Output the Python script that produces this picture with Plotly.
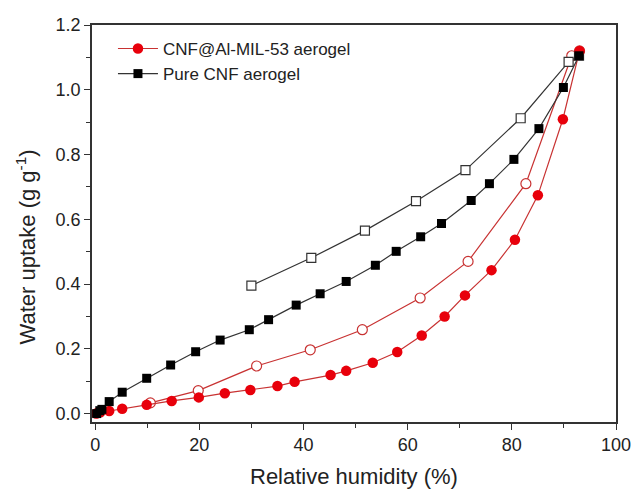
import plotly.graph_objects as go

# Data
mof_ads_x = [0.2, 0.5, 1.0, 2.7, 5.2, 9.9, 14.7, 19.9, 24.9, 29.8, 35.0, 38.3, 45.2, 48.2,
             53.3, 58.0, 62.7, 67.1, 71.0, 76.1, 80.6, 85.0, 89.8, 93.0]
mof_ads_y = [0.0, 0.002, 0.004, 0.008, 0.015, 0.027, 0.039, 0.050, 0.063, 0.073, 0.085, 0.098,
             0.119, 0.132, 0.157, 0.190, 0.241, 0.300, 0.365, 0.443, 0.537, 0.674, 0.909, 1.12]
mof_des_x = [93.0, 91.5, 82.7, 71.6, 62.4, 51.3, 41.3, 31.0, 19.8, 10.6]
mof_des_y = [1.12, 1.105, 0.710, 0.470, 0.357, 0.259, 0.197, 0.147, 0.071, 0.033]

cnf_ads_x = [0.3, 0.9, 1.3, 2.7, 5.2, 9.9, 14.5, 19.3, 24.0, 29.6, 33.3, 38.6, 43.2, 48.2,
             53.8, 57.8, 62.5, 66.5, 72.2, 75.7, 80.4, 85.2, 89.9, 92.9]
cnf_ads_y = [0.0, 0.009, 0.013, 0.037, 0.066, 0.109, 0.150, 0.191, 0.227, 0.259, 0.290, 0.335,
             0.370, 0.408, 0.458, 0.501, 0.546, 0.587, 0.658, 0.710, 0.785, 0.880, 1.007, 1.105]
cnf_des_x = [92.9, 90.9, 81.7, 71.1, 61.6, 51.8, 41.5, 30.0]
cnf_des_y = [1.105, 1.086, 0.912, 0.752, 0.656, 0.565, 0.481, 0.395]

x_ticks = [0, 20, 40, 60, 80, 100]
y_ticks = [0, 0.2, 0.4, 0.6, 0.8, 1.0, 1.2]

RED = "#e8000b"
RED_LINE = "#c83232"
BLACK = "#000000"
BLACK_LINE = "#333333"
FONT = "Liberation Sans, Arial"

fig = go.Figure()

fig.add_trace(go.Scatter(
    x=mof_des_x, y=mof_des_y, mode="lines+markers", showlegend=False,
    line=dict(color=RED_LINE, width=1.2),
    marker=dict(symbol="circle", size=10, color="white", line=dict(color=RED_LINE, width=1.2)),
))
fig.add_trace(go.Scatter(
    x=cnf_des_x, y=cnf_des_y, mode="lines+markers", showlegend=False,
    line=dict(color=BLACK_LINE, width=1.2),
    marker=dict(symbol="square", size=9, color="white", line=dict(color=BLACK_LINE, width=1.2)),
))
fig.add_trace(go.Scatter(
    x=mof_ads_x, y=mof_ads_y, mode="lines+markers", name="CNF@Al-MIL-53 aerogel",
    line=dict(color=RED_LINE, width=1.2),
    marker=dict(symbol="circle", size=10.5, color=RED, line=dict(width=0)),
))
fig.add_trace(go.Scatter(
    x=cnf_ads_x, y=cnf_ads_y, mode="lines+markers", name="Pure CNF aerogel",
    line=dict(color=BLACK_LINE, width=1.2),
    marker=dict(symbol="square", size=9, color=BLACK, line=dict(width=0)),
))

axis_common = dict(
    showgrid=False, zeroline=False, showline=True, linecolor="#333333", linewidth=1.5,
    mirror=True, ticks="outside", ticklen=6, tickwidth=1.2, tickcolor="#333333",
    tickfont=dict(family=FONT, size=18, color="#222222"),
)

fig.update_layout(
    width=643, height=493,
    margin=dict(l=92, r=18, t=25, b=71),
    paper_bgcolor="white", plot_bgcolor="white",
    font=dict(family=FONT, color="#222222"),
    xaxis=dict(
        range=[-0.6, 100], tickvals=x_ticks,
        minor=dict(tickvals=[10, 30, 50, 70, 90], ticks="outside", ticklen=4, tickcolor="#333333"),
        **axis_common,
    ),
    yaxis=dict(
        range=[-0.026, 1.2], tickvals=y_ticks, tickformat=".1f",
        minor=dict(tickvals=[0.1, 0.3, 0.5, 0.7, 0.9, 1.1], ticks="outside", ticklen=4, tickcolor="#333333"),
        **axis_common,
    ),
    legend=dict(
        x=0.04, y=0.985, xanchor="left", yanchor="top",
        bgcolor="rgba(0,0,0,0)", font=dict(size=17, family=FONT, color="#222222"),
        traceorder="normal", itemwidth=40, tracegroupgap=0,
    ),
    annotations=[
        dict(text="Relative humidity (%)", xref="paper", yref="paper", x=0.5, y=-0.1385,
             xanchor="center", yanchor="middle", showarrow=False,
             font=dict(size=22, family=FONT, color="#222222")),
        dict(text="Water uptake (g g<sup>-1</sup>)", xref="paper", yref="paper", x=-0.1257, y=0.44,
             xanchor="center", yanchor="middle", showarrow=False, textangle=-90,
             font=dict(size=22, family=FONT, color="#222222")),
    ],
)

fig.write_html("out.html")
